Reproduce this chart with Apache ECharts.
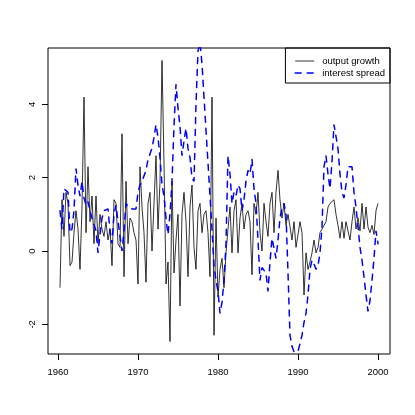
<!DOCTYPE html>
<html>
<head>
<meta charset="utf-8">
<script src="https://cdn.jsdelivr.net/npm/echarts@6/dist/echarts.min.js"></script>
<style>
  html, body { margin: 0; padding: 0; background: #fff; }
  #main { width: 415px; height: 415px; }
</style>
</head>
<body>
<div id="main"></div>
<script>
// 季度数据，1960Q2 - 2000Q1
var startYear = 1960.25;

var outputGrowth = [
    -1.0, 1.4, 0.4, 1.6, 1.3, -0.4, -0.3, 0.5, 1.1, 0.6,
    -0.5, 1.2, 4.2, 0.5, 2.3, 0.8, 1.5, 0.2, 1.5, 0.2,
    1.0, 0.6, 0.4, 0.8, 0.3, 0.6, -0.4, 1.4, 1.3, 0.2,
    0.1, 3.2, -0.7, 1.9, 0.2, 0.9, 0.8, 0.5, 0.3, -0.9,
    2.3, 1.2, 0.5, -0.85, 1.3, 1.6, 0.0, 0.0, 2.6, 0.6,
    1.9, 5.2, 2.4, -0.9, -0.3, -2.47, 1.9, -0.6, 0.3, 1.0,
    -1.5, 1.0, 1.6, 0.8, -0.7, 1.2, 1.8, 0.1, -0.5, 1.1,
    1.3, 0.5, 1.0, 1.1, 0.5, -0.7, 4.2, -2.3, 0.9, -1.25,
    -0.5, -0.2, -1.0, -0.05, 0.6, 1.2, -0.05, 1.1, 1.4, -0.05,
    0.9, 1.3, 0.6, 1.0, 1.1, 0.8, -0.65, 1.3, 1.0, 1.6,
    0.5, 0.0, 1.3, 0.8, 0.4, 1.3, 1.6, 0.5, 1.6, 2.2,
    1.4, 0.9, 1.3, 0.7, 1.0, 0.66, 0.3, 0.8, 0.1, 0.1,
    0.8, 0.5, -1.2, -0.05, -0.5, -0.3, -0.05, 0.3, -0.05, 0.1,
    0.5, 0.6, 0.65, 0.8, 1.2, 1.3, 1.25, 1.4, 1.0, 0.7,
    0.35, 0.8, 0.35, 0.8, 0.8, 0.3, 0.8, 1.2, 0.6, 0.9,
    0.55, 1.3, 0.6, 1.2, 0.65, 0.5, 0.7, 0.45, 1.1, 1.3
];

var interestSpread = [
    1.1, 0.6, 1.7, 1.7, 1.6, 0.5, 0.6, 1.1, 2.25, 1.8,
    1.5, 1.9, 1.45, 1.25, 1.35, 1.1, 0.9, 0.85, 0.55, -0.05,
    0.45, 0.9, 1.1, 1.05, 1.15, 0.55, 0.2, 1.0, 1.25, 1.2,
    0.4, 0.0, 0.55, 1.3, 1.2, 1.2, 1.15, 1.2, 1.15, 1.6,
    1.8, 1.9, 1.9, 2.2, 2.5, 2.45, 2.8, 3.1, 3.45, 3.1,
    2.55, 1.8, 1.5, 0.9, 0.45, 1.0, 1.9, 3.4, 4.55, 3.9,
    3.4, 2.6, 3.0, 3.35, 2.8, 2.55, 2.0, 1.9, 4.0, 5.45,
    5.7, 5.1, 4.2, 3.3, 2.4, 1.5, 0.6, -0.4, -0.8, -1.1,
    -1.7, -1.4, -0.8, 0.2, 2.6, 2.1, 1.3, 1.6, 1.5, 1.8,
    1.7, 1.1, 1.4, 1.9, 2.2, 2.1, 2.5, 1.7, 1.3, 0.3,
    -0.8, -0.45, -0.5, -0.6, -1.1, -0.3, 0.35, 0.3, -0.2, 0.3,
    0.9, 1.2, 1.3, 1.0, -0.6, -2.3, -2.6, -2.75, -2.78, -2.75,
    -2.7, -2.3, -1.95, -1.7, -1.2, -0.5, -0.25, -0.35, -0.5, -0.4,
    -0.05, 0.66, 2.3, 2.6, 2.1, 1.7, 2.45, 3.45, 3.5, 2.8,
    2.1, 1.6, 1.45, 1.8, 2.3, 2.35, 2.3, 1.6, 1.2, 0.66,
    0.1, -0.25, -0.7, -1.2, -1.65, -1.35, -0.8, -0.2, 0.55, 0.2
];

var xTicks = [1960, 1970, 1980, 1990, 2000];
var yTicks = [-2, 0, 2, 4];

// 时间（季度）
var quarters = [];
for (var i = 0; i < outputGrowth.length; i++) {
    quarters.push(startYear + i * 0.25);
}

function pairs(vals) {
    return vals.map(function(v, i) { return [quarters[i], v]; });
}

var FONT = 'Liberation Sans, Arial, Helvetica, sans-serif';
var growthLine = { color: '#000', width: 0.8, type: 'solid' };
var spreadLine = { color: '#0000ff', width: 1.5, type: [6, 6], cap: 'round' };

var myChart = echarts.init(document.getElementById('main'));

var option = {
    backgroundColor: '#ffffff',
    animation: false,
    grid: {
        left: 48,
        right: 25,
        top: 48,
        bottom: 61,
        show: true,
        borderColor: '#000',
        borderWidth: 1,
        backgroundColor: 'transparent'
    },
    //图例
    legend: {
        orient: 'vertical',
        right: 25,
        top: 48,
        borderColor: '#000',
        borderWidth: 1,
        borderRadius: 0,
        padding: [8, 5, 5, 9],
        itemWidth: 19,
        itemHeight: 10,
        itemGap: 2,
        itemStyle: { opacity: 0 },
        textStyle: { fontFamily: FONT, fontSize: 9.5, color: '#000', padding: [0, 0, 0, 3] },
        data: [
            { name: 'output growth', itemStyle: { opacity: 0 }, lineStyle: growthLine },
            { name: 'interest spread', itemStyle: { opacity: 0 }, lineStyle: spreadLine }
        ]
    },
    xAxis: {
        type: 'value',
        min: 1958.75,
        max: 2001.5,
        axisLine: { show: false, onZero: false },
        splitLine: { show: false },
        axisTick: {
            show: true,
            customValues: xTicks,
            length: 6,
            lineStyle: { color: '#000', width: 1 }
        },
        axisLabel: {
            customValues: xTicks,
            margin: 13,
            fontFamily: FONT,
            fontSize: 9.5,
            color: '#000',
            formatter: function(v) { return String(v); }
        }
    },
    yAxis: {
        type: 'value',
        min: -2.81,
        max: 5.54,
        axisLine: { show: false, onZero: false },
        splitLine: { show: false },
        axisTick: {
            show: true,
            customValues: yTicks,
            length: 6,
            lineStyle: { color: '#000', width: 1 }
        },
        axisLabel: {
            customValues: yTicks,
            rotate: 90,
            margin: 11,
            fontFamily: FONT,
            fontSize: 9.5,
            color: '#000',
            formatter: function(v) { return String(v); }
        }
    },
    series: [{
        name: 'output growth',
        type: 'line',
        symbol: 'none',
        clip: true,
        lineStyle: growthLine,
        itemStyle: { color: '#000' },
        data: pairs(outputGrowth)
    }, {
        name: 'interest spread',
        type: 'line',
        symbol: 'none',
        clip: true,
        lineStyle: spreadLine,
        itemStyle: { color: '#0000ff' },
        data: pairs(interestSpread)
    }]
};

myChart.setOption(option);
</script>
</body>
</html>
